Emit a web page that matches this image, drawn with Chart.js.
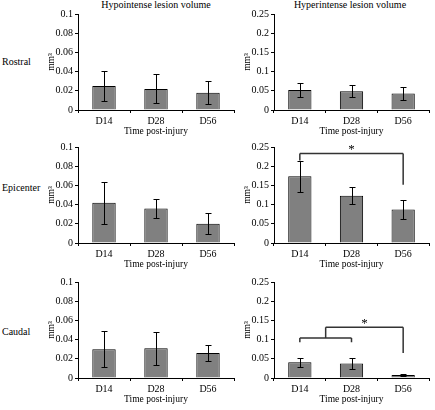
<!DOCTYPE html>
<html>
<head>
<meta charset="utf-8">
<script src="https://cdn.jsdelivr.net/npm/chart.js@4.4.0/dist/chart.umd.min.js"></script>
<style>
  body { margin: 0; background: #fff; }
  #wrap { position: relative; width: 435px; height: 410px; font-family: "Liberation Serif", serif; color: #000; }
  canvas { position: absolute; }
  .lbl { position: absolute; font-size: 10px; line-height: 12px; white-space: nowrap; }
  .ttl { position: absolute; width: 160px; text-align: center; font-size: 10px; line-height: 12px; }
</style>
</head>
<body>
<div id="wrap">
  <div class="ttl" style="left:76px; top:-1px;">Hypointense lesion volume</div>
  <div class="ttl" style="left:270px; top:-1px;">Hyperintense lesion volume</div>
  <div class="lbl" style="left:2px; top:56px;">Rostral</div>
  <div class="lbl" style="left:2px; top:182px;">Epicenter</div>
  <div class="lbl" style="left:2px; top:326px;">Caudal</div>
  <canvas id="c1" width="200" height="138" style="left:40px; top:0px;"></canvas>
  <canvas id="c2" width="199" height="138" style="left:236px; top:0px;"></canvas>
  <canvas id="c3" width="200" height="138" style="left:40px; top:133px;"></canvas>
  <canvas id="c4" width="199" height="138" style="left:236px; top:133px;"></canvas>
  <canvas id="c5" width="200" height="138" style="left:40px; top:268px;"></canvas>
  <canvas id="c6" width="199" height="138" style="left:236px; top:268px;"></canvas>
</div>
<script>
const days = ['D14', 'D28', 'D56'];
const hypoTicks = [0, 0.02, 0.04, 0.06, 0.08, 0.1];
const hyperTicks = [0, 0.05, 0.1, 0.15, 0.2, 0.25];

const hypoRostral = [0.025, 0.022, 0.018];
const hypoRostralErr = [0.016, 0.015, 0.012];
const hypoEpicenter = [0.042, 0.036, 0.020];
const hypoEpicenterErr = [0.022, 0.010, 0.011];
const hypoCaudal = [0.030, 0.031, 0.026];
const hypoCaudalErr = [0.019, 0.017, 0.008];

const hyperRostral = [0.052, 0.049, 0.043];
const hyperRostralErr = [0.018, 0.015, 0.016];
const hyperEpicenter = [0.174, 0.123, 0.087];
const hyperEpicenterErr = [0.040, 0.022, 0.024];
const hyperCaudal = [0.041, 0.038, 0.008];
const hyperCaudalErr = [0.012, 0.015, 0.002];

// significance brackets: [x1, y1, x2, y2] in category index / data units
const epicenterSig = [[0, 0.215, 0, 0.233], [0, 0.233, 2, 0.233], [2, 0.233, 2, 0.152]];
const epicenterStar = [1, 0.25];
const caudalSig = [[0, 0.093, 0, 0.104], [0, 0.104, 1, 0.104], [1, 0.104, 1, 0.093],
                   [0.5, 0.104, 0.5, 0.132], [0.5, 0.132, 2, 0.132], [2, 0.132, 2, 0.065]];
const caudalStar = [1.25, 0.15];

const errorBars = {
    id: 'errorBars',
    afterDatasetsDraw(chart, args, opts) {
        const { ctx, scales: { y } } = chart;
        const vals = chart.data.datasets[0].data;
        ctx.save();
        ctx.strokeStyle = '#000';
        ctx.lineWidth = 1;
        chart.getDatasetMeta(0).data.forEach((bar, i) => {
            const x = Math.round(bar.x) + 0.5;
            const top = Math.round(y.getPixelForValue(vals[i] + opts.errors[i])) + 0.5;
            const bot = Math.round(y.getPixelForValue(vals[i] - opts.errors[i])) + 0.5;
            ctx.beginPath();
            ctx.moveTo(x, top); ctx.lineTo(x, bot);
            ctx.moveTo(x - 3, top); ctx.lineTo(x + 3, top);
            ctx.moveTo(x - 3, bot); ctx.lineTo(x + 3, bot);
            ctx.stroke();
        });
        ctx.restore();
    }
};

const brackets = {
    id: 'brackets',
    afterDatasetsDraw(chart, args, opts) {
        if (!opts.lines) return;
        const { ctx, scales: { x, y } } = chart;
        ctx.save();
        ctx.strokeStyle = '#333';
        ctx.lineWidth = 1.5;
        ctx.beginPath();
        opts.lines.forEach(([x1, y1, x2, y2]) => {
            ctx.moveTo(x.getPixelForValue(x1), y.getPixelForValue(y1));
            ctx.lineTo(x.getPixelForValue(x2), y.getPixelForValue(y2));
        });
        ctx.stroke();
        ctx.fillStyle = '#000';
        ctx.font = '13px "Liberation Serif"';
        ctx.textAlign = 'center';
        ctx.textBaseline = 'middle';
        ctx.fillText('*', x.getPixelForValue(opts.star[0]), y.getPixelForValue(opts.star[1]) + 3);
        ctx.restore();
    }
};

function makeChart(id, values, errors, ticks, sig, star) {
    new Chart(document.getElementById(id), {
        type: 'bar',
        data: {
            labels: days,
            datasets: [{
                data: values,
                backgroundColor: '#808080',
                borderColor: '#000',
                borderWidth: 1,
                barPercentage: 0.9,
                categoryPercentage: 0.5
            }]
        },
        options: {
            responsive: false,
            animation: false,
            devicePixelRatio: 1,
            layout: { padding: { top: 14, right: 6, left: 0, bottom: 0 } },
            plugins: {
                legend: { display: false },
                tooltip: { enabled: false },
                errorBars: { errors: errors },
                brackets: { lines: sig, star: star }
            },
            scales: {
                x: {
                    grid: { drawOnChartArea: false, drawTicks: true, tickLength: 3, color: '#000' },
                    border: { display: true, color: '#000', width: 1 },
                    ticks: { color: '#000', padding: 2, font: { family: 'Liberation Serif', size: 10 } },
                    title: { display: true, text: 'Time post-injury', color: '#000', padding: { top: 0, bottom: 1 },
                             font: { family: 'Liberation Serif', size: 9.5 } },
                    afterFit(s) { s.height = 28; }
                },
                y: {
                    min: 0,
                    max: ticks[ticks.length - 1],
                    grid: { drawOnChartArea: false, drawTicks: true, tickLength: 3, color: '#000' },
                    border: { display: true, color: '#000', width: 1 },
                    afterBuildTicks(s) { s.ticks = ticks.map(v => ({ value: v })); },
                    ticks: { color: '#000', padding: 2, font: { family: 'Liberation Serif', size: 10 },
                             callback: v => String(v) },
                    title: { display: true, text: 'mm³', color: '#000', padding: { top: 6, bottom: 0 },
                             font: { family: 'Liberation Serif', size: 9.5 } },
                    afterFit(s) { s.width = 38; }
                }
            }
        },
        plugins: [errorBars, brackets]
    });
}

makeChart('c1', hypoRostral, hypoRostralErr, hypoTicks);
makeChart('c2', hyperRostral, hyperRostralErr, hyperTicks);
makeChart('c3', hypoEpicenter, hypoEpicenterErr, hypoTicks);
makeChart('c4', hyperEpicenter, hyperEpicenterErr, hyperTicks, epicenterSig, epicenterStar);
makeChart('c5', hypoCaudal, hypoCaudalErr, hypoTicks);
makeChart('c6', hyperCaudal, hyperCaudalErr, hyperTicks, caudalSig, caudalStar);
</script>
</body>
</html>
